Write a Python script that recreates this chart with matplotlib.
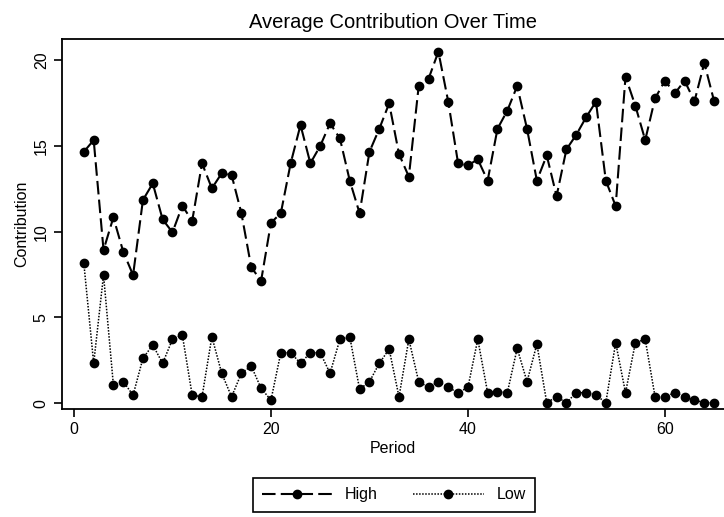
import matplotlib
matplotlib.use("Agg")
import matplotlib.pyplot as plt

plt.rcParams["font.family"] = ["Liberation Sans", "DejaVu Sans"]

periods = list(range(1, 66))

high = [
    14.65, 15.33, 8.93, 10.83, 8.83, 7.47, 11.84, 12.81, 10.71, 9.96,
    11.51, 10.62, 13.98, 12.52, 13.40, 13.30, 11.07, 7.92, 7.14, 10.52,
    11.07, 13.98, 16.21, 13.98, 14.99, 16.31, 15.43, 12.97, 11.07, 14.65,
    15.99, 17.47, 14.52, 13.20, 18.48, 18.90, 20.48, 17.57, 13.98, 13.86,
    14.21, 12.97, 15.99, 17.05, 18.48, 15.99, 12.97, 14.44, 12.07, 14.79,
    15.64, 16.66, 17.57, 12.97, 11.49, 19.02, 17.33, 15.33, 17.76, 18.79,
    18.05, 18.79, 17.59, 19.82, 17.59,
]

low = [
    8.15, 2.33, 7.47, 1.07, 1.26, 0.48, 2.62, 3.40, 2.33, 3.73,
    3.98, 0.48, 0.38, 3.88, 1.75, 0.38, 1.75, 2.17, 0.87, 0.19,
    2.95, 2.95, 2.33, 2.95, 2.95, 1.75, 3.73, 3.88, 0.82, 1.26,
    2.33, 3.16, 0.38, 3.73, 1.26, 0.93, 1.26, 0.93, 0.62, 0.93,
    3.73, 0.62, 0.68, 0.62, 3.20, 1.26, 3.45, 0.04, 0.38, 0.04,
    0.62, 0.62, 0.48, 0.04, 3.53, 0.62, 3.53, 3.73, 0.38, 0.38,
    0.62, 0.38, 0.19, 0.04, 0.04,
]

x_ticks = [0, 20, 40, 60]
y_ticks = [0, 5, 10, 15, 20]


def main():
    fig = plt.figure(figsize=(7.24, 5.17), dpi=100)
    ax = fig.add_axes([0.0856, 0.2089, 0.9144, 0.7147])

    ax.plot(periods, high, color="black", linewidth=1.5,
            linestyle=(0, (6.5, 2.5)), marker="o", markersize=6,
            label="High")
    ax.plot(periods, low, color="black", linewidth=1.1,
            linestyle=(0, (1, 1)), marker="o", markersize=6, label="Low")

    ax.set_xlim(-1.22, 66.0)
    ax.set_ylim(-0.33, 21.19)
    ax.set_xticks(x_ticks)
    ax.set_yticks(y_ticks)
    ax.tick_params(axis="both", direction="out", length=6, width=1.2,
                   labelsize=11.5, colors="black")
    for lab in ax.get_yticklabels():
        lab.set_rotation(90)
        lab.set_va("center")

    ax.spines["right"].set_visible(False)
    for side in ("left", "bottom", "top"):
        ax.spines[side].set_linewidth(1.3)

    ax.set_xlabel("Period", fontsize=11.5, labelpad=3)
    ax.set_ylabel("Contribution", fontsize=11.5, labelpad=3)
    ax.set_title("Average Contribution Over Time", fontsize=14.5, pad=8)

    leg = fig.legend(loc="center", bbox_to_anchor=(0.544, 0.0426), ncol=2,
                     fontsize=11.5, handlelength=4.4, columnspacing=2.2,
                     numpoints=1, fancybox=False, framealpha=1,
                     edgecolor="black", borderpad=0.6)
    leg.get_frame().set_linewidth(1.2)

    fig.savefig("out.png", dpi=100)


if __name__ == "__main__":
    main()
